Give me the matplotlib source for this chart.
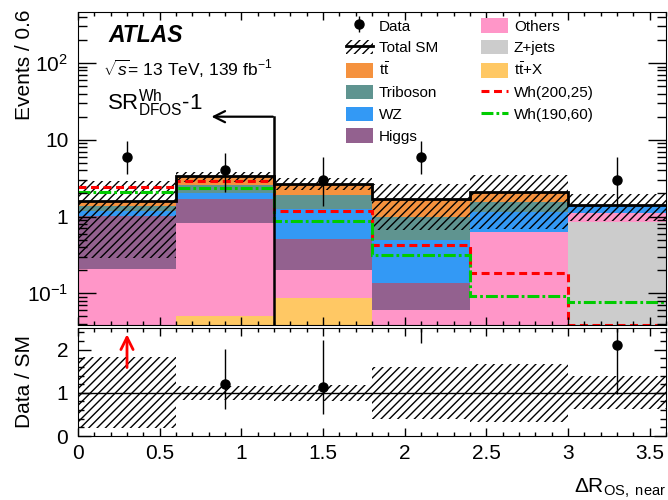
import numpy as np
import matplotlib.pyplot as plt
from matplotlib.patches import Patch
from matplotlib.lines import Line2D
from matplotlib.ticker import MultipleLocator, FixedLocator, LogLocator, NullFormatter, FuncFormatter

plt.rcParams['font.family'] = ['Liberation Sans', 'DejaVu Sans']
plt.rcParams['mathtext.fontset'] = 'custom'
plt.rcParams['mathtext.rm'] = 'Liberation Sans'
plt.rcParams['mathtext.it'] = 'Liberation Sans:italic'
plt.rcParams['mathtext.bf'] = 'Liberation Sans:bold'
plt.rcParams['hatch.linewidth'] = 1.0

edges = [0.0, 0.6, 1.2, 1.8, 2.4, 3.0, 3.6]

# background yields per bin, stacked from the bottom up
ttx = [0.0, 0.05, 0.088, 0.0, 0.0, 0.0]
zjets = [0.0, 0.0, 0.0, 0.0, 0.0, 0.86]
others = [0.206, 0.77, 0.112, 0.061, 0.638, 0.25]
higgs = [0.82, 0.87, 0.307, 0.074, 0.0, 0.0]
wz = [0.17, 0.33, 0.74, 0.36, 0.52, 0.27]
triboson = [0.18, 0.57, 0.67, 0.50, 0.41, 0.01]
ttbar = [0.24, 0.74, 0.75, 0.69, 0.51, 0.03]

# relative uncertainty on total SM
sm_rel_unc = [0.82, 0.16, 0.18, 0.60, 0.67, 0.38]

sig_200_25 = [2.46, 2.92, 1.19, 0.43, 0.186, 0.039]
sig_190_60 = [2.12, 2.35, 0.88, 0.32, 0.092, 0.076]

data = [6, 4, 3, 6, 0, 3]
data_err_lo = [2.38, 1.92, 1.63, 2.38, 0.0, 1.63]
data_err_hi = [3.58, 2.72, 2.92, 3.58, 1.84, 2.92]

colors = {
    'ttx': '#ffc864', 'zjets': '#cccccc', 'others': '#ff96c8', 'higgs': '#93618f',
    'wz': '#3399f5', 'triboson': '#5f9490', 'ttbar': '#f5923e',
}
red_dash = (0, (2.6, 1.5))
green_dashdot = (0, (3.9, 1.0, 0.9, 1.0))

edges = np.array(edges)
left = edges[:-1]
width = np.diff(edges)
centers = left + width / 2

fig = plt.figure(figsize=(6.68, 5.00), dpi=100)
ax = fig.add_axes([78 / 668, 1 - 325 / 500, 588 / 668, 313 / 500])
ax2 = fig.add_axes([78 / 668, 1 - 436 / 500, 588 / 668, 108 / 500])

ymin, ymax = 0.0387, 462
ax.set_yscale('log')
ax.set_xlim(0, 3.6)
ax.set_ylim(ymin, ymax)

# stacked backgrounds
bottom = np.full(6, 1e-4)
for vals, key in [(ttx, 'ttx'), (zjets, 'zjets'), (others, 'others'), (higgs, 'higgs'),
                  (wz, 'wz'), (triboson, 'triboson'), (ttbar, 'ttbar')]:
    vals = np.array(vals)
    ax.bar(left, vals, width=width, bottom=bottom, align='edge', color=colors[key], linewidth=0)
    bottom = bottom + vals
total = bottom - 1e-4

unc = total * np.array(sm_rel_unc)
ax.bar(left, 2 * unc, width=width, bottom=total - unc, align='edge', facecolor='none',
       edgecolor='black', hatch='////', linewidth=0)

ax.stairs(sig_200_25, edges, baseline=None, color='red', lw=2.2, ls=red_dash)
ax.stairs(sig_190_60, edges, baseline=None, color='#00cc00', lw=2.2, ls=green_dashdot)
ax.stairs(total, edges, baseline=None, color='black', lw=2)

data = np.array(data, dtype=float)
lo = np.array(data_err_lo)
hi = np.array(data_err_hi)
has = data > 0
ax.errorbar(centers[has], data[has], yerr=[lo[has], hi[has]], fmt='o', color='black',
            ms=6.5, elinewidth=1, capsize=0)

# cut arrow
ax.plot([1.2, 1.2], [ymin, 20], color='black', lw=1.8)
ax.annotate('', xy=(0.8, 20), xytext=(1.21, 20),
            arrowprops=dict(arrowstyle='->', lw=1.6, color='black', mutation_scale=20))

ax.xaxis.set_major_locator(MultipleLocator(0.5))
ax.xaxis.set_minor_locator(MultipleLocator(0.1))
ax.xaxis.set_major_formatter(NullFormatter())
ax.yaxis.set_major_locator(FixedLocator([0.1, 1, 10, 100]))
ax.yaxis.set_minor_locator(LogLocator(subs=np.arange(2, 10)))
ax.yaxis.set_minor_formatter(NullFormatter())
ylabels = {0.1: r'$10^{-1}$', 1: '1', 10: '10', 100: r'$10^{2}$'}
ax.yaxis.set_major_formatter(FuncFormatter(lambda v, p: ylabels.get(round(v, 3), '')))
ax.tick_params(which='both', direction='in', top=True, right=True, width=1, labelsize=15)
ax.tick_params(axis='y', which='major', length=13, pad=7)
ax.tick_params(axis='y', which='minor', length=6.5)
ax.tick_params(axis='x', which='major', length=6)
ax.tick_params(axis='x', which='minor', length=3)

# ratio panel
ax2.set_xlim(0, 3.6)
ax2.set_ylim(0, 2.5)
rel = np.array(sm_rel_unc)
ax2.bar(left, 2 * rel, width=width, bottom=1 - rel, align='edge', facecolor='none',
        edgecolor='black', hatch='////', linewidth=0)
ax2.axhline(1, color='black', lw=1)
ratio = data / total
show = has.copy()
show[0] = False
ax2.errorbar(centers[show], ratio[show], yerr=[lo[show] / total[show], hi[show] / total[show]],
             fmt='o', color='black', ms=6.5, elinewidth=1, capsize=0)
ax2.annotate('', xy=(centers[0], 2.42), xytext=(centers[0], 1.52),
             arrowprops=dict(arrowstyle='->', lw=2, color='red', mutation_scale=22))

ax2.xaxis.set_major_locator(MultipleLocator(0.5))
ax2.xaxis.set_minor_locator(MultipleLocator(0.1))
ax2.xaxis.set_major_formatter(FuncFormatter(lambda v, p: '%g' % v))
ax2.yaxis.set_major_locator(MultipleLocator(1))
ax2.yaxis.set_minor_locator(MultipleLocator(0.2))
ax2.tick_params(which='both', direction='in', top=True, right=True, width=1, labelsize=15)
ax2.tick_params(axis='y', which='major', length=9, pad=7)
ax2.tick_params(axis='y', which='minor', length=4.5)
ax2.tick_params(axis='x', which='major', length=6, pad=6)
ax2.tick_params(axis='x', which='minor', length=3)

# axis titles
fig.text(25 / 668, 1 - 10 / 500, 'Events / 0.6', rotation=90, ha='center', va='top', fontsize=15)
fig.text(25 / 668, 1 - 382 / 500, 'Data / SM', rotation=90, ha='center', va='center', fontsize=15)
fig.text(666 / 668, 1 - 493 / 500, r'$\Delta\mathrm{R}_{\mathrm{OS,\ near}}$', ha='right',
         va='baseline', fontsize=15)

# labels
fig.text(108 / 668, 1 - 35 / 500, 'ATLAS', fontweight='bold', style='italic', fontsize=16.5,
         va='center')
fig.text(103 / 668, 1 - 69 / 500, r'$\sqrt{s}$= 13 TeV, 139 fb$^{-1}$', fontsize=12.5,
         va='center')
fig.text(107 / 668, 1 - 110 / 500, r'$\mathrm{SR}^{\mathrm{Wh}}_{\mathrm{DFOS}}$-1', fontsize=16,
         va='baseline')

# legends
hatch_box = Patch(facecolor='none', edgecolor='black', hatch='////', linewidth=0)
handles_l = [
    (Line2D([], [], color='black', marker='o', ls='none', ms=6.5),
     Line2D([], [], color='black', marker='|', ls='none', ms=11, mew=1)),
    (hatch_box, Line2D([], [], color='black', lw=2)),
    Patch(facecolor=colors['ttbar']),
    Patch(facecolor=colors['triboson']),
    Patch(facecolor=colors['wz']),
    Patch(facecolor=colors['higgs']),
]
labels_l = ['Data', 'Total SM', r't$\bar{\mathrm{t}}$', 'Triboson', 'WZ', 'Higgs']
handles_r = [
    Patch(facecolor=colors['others']),
    Patch(facecolor=colors['zjets']),
    Patch(facecolor=colors['ttx']),
    Line2D([], [], color='red', lw=2.2, ls=red_dash),
    Line2D([], [], color='#00cc00', lw=2.2, ls=green_dashdot),
]
labels_r = ['Others', 'Z+jets', r't$\bar{\mathrm{t}}$+X', 'Wh(200,25)', 'Wh(190,60)']

leg_kw = dict(frameon=False, fontsize=11, handlelength=1.75, handleheight=1.1,
              handletextpad=0.4, labelspacing=0.41, borderpad=0, borderaxespad=0,
              loc='upper left')
fig.legend(handles_l, labels_l, bbox_to_anchor=(346 / 668, 1 - 18 / 500), **leg_kw)
fig.legend(handles_r, labels_r, bbox_to_anchor=(481 / 668, 1 - 18 / 500), **leg_kw)

fig.savefig('out.png', dpi=100)
